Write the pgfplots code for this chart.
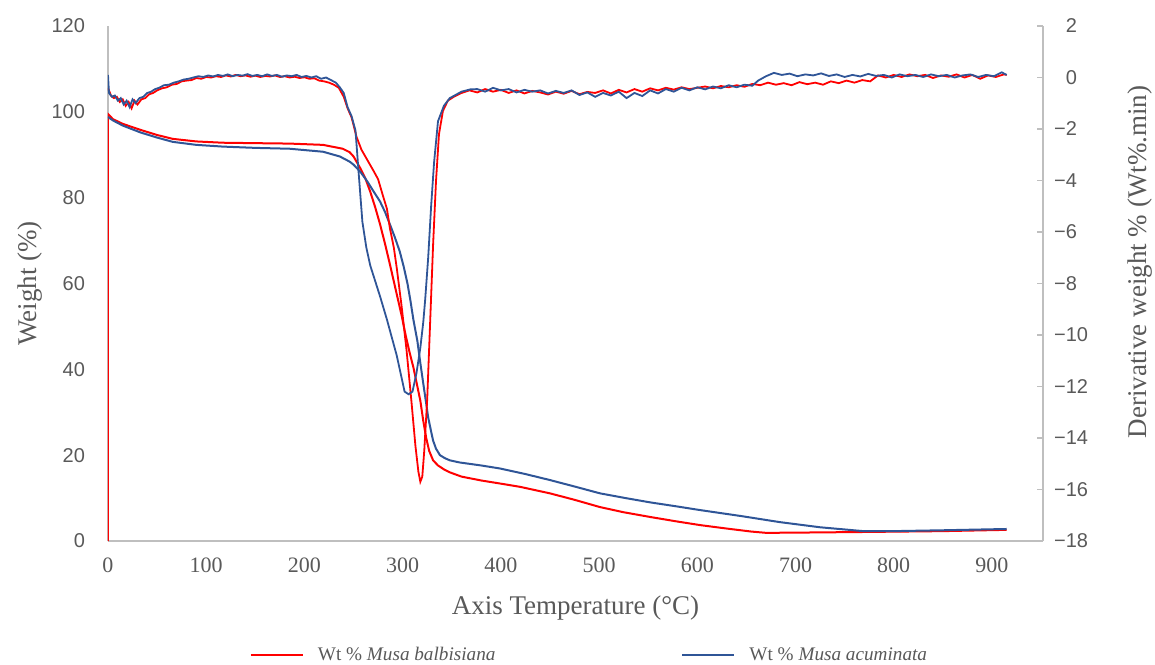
\documentclass[border=0pt]{standalone}
\usepackage{fontspec}
\setmainfont{Liberation Serif}
\setsansfont{Liberation Sans}
\usepackage{pgfplots}
\pgfplotsset{compat=1.18}
\definecolor{tgared}{RGB}{255,0,0}
\definecolor{tgablue}{RGB}{47,85,151}
\definecolor{txtgray}{RGB}{89,89,89}
\definecolor{axgray}{RGB}{191,191,191}

\pgfplotsset{
  tgabase/.style={
    scale only axis, width=467.5pt, height=257.5pt,
    at={(0,0)}, anchor=south west,
    xmin=0, xmax=952,
    axis line style={axgray, line width=0.7pt, -},
    /pgf/number format/assume math mode=true,
    label style={font=\fontsize{13.5}{14}\selectfont, text=txtgray},
  }
}

\begin{document}
\begin{tikzpicture}
\path[use as bounding box] (-54pt,-61.5pt) rectangle (523.5pt,270.5pt);

% left axis: weight curves
\begin{axis}[tgabase,
  ymin=0, ymax=120,
  axis x line*=bottom, axis y line*=left,
  xtick={0,100,...,900}, ytick={0,20,...,120},
  major tick length=0pt,
  xticklabel style={font=\fontsize{11}{11}\selectfont, text=txtgray, yshift=-5pt},
  yticklabel style={font=\sffamily\fontsize{10}{10}\selectfont, text=txtgray, xshift=-8pt},
  xlabel={Axis Temperature (°C)}, ylabel={Weight (\%)},
  xlabel style={at={(axis description cs:0.5,-0.13)}, anchor=center},
  ylabel style={at={(axis description cs:-0.083,0.5)}, anchor=center},
  legend columns=2,
  legend style={at={(axis description cs:0.516,-0.222)}, anchor=center, draw=none,
    font=\fontsize{9.6}{10}\selectfont, text=txtgray,
    /tikz/every even column/.append style={column sep=91pt}},
  legend image code/.code={\draw[#1, line width=1pt] (0pt,0pt) -- (26pt,0pt); \path (31pt,0pt);},
]
\addplot[tgared, line width=1pt] coordinates {
(0,0) (0,99.5) (5,98.3) (15,97.2) (33,95.8) (50,94.6) (66,93.7) (90,93.1)
(117,92.8) (150,92.7) (185,92.6) (219,92.3) (239,91.4) (246,90.6) (250,89.6)
(257,86.8) (262,84.5) (267,81.4) (272,77.8) (277,73.8) (282,69.3) (287,64.5)
(291,60.5) (295,56.5) (299,52.5) (303,48) (307,44) (311,40.4) (315,36)
(318,32.7) (321,28) (324,24) (327,21) (331,18.8) (336,17.6) (342,16.7)
(348,16.0) (360,15.0) (380,14.1) (399,13.4) (420,12.6) (450,11.1) (475,9.6)
(501,7.9) (525,6.7) (552,5.6) (578,4.6) (603,3.7) (630,2.9) (655,2.2)
(670,1.9) (700,1.95) (769,2.1) (850,2.3) (915,2.6)
};
\addlegendentry{Wt \% \textit{Musa balbisiana}}
\addplot[tgablue, line width=1pt] coordinates {
(0,98.8) (5,98.0) (15,96.8) (33,95.2) (50,94.0) (66,93.0) (90,92.3)
(117,91.9) (150,91.6) (185,91.4) (219,90.7) (236,89.6) (246,88.4) (250,87.7)
(257,86.0) (264,83.8) (270,81.6) (277,79.1) (282,76.7) (287,73.8) (292,70.8)
(297,67.5) (301,64) (305,59.9) (308,55.9) (311,51.5) (315,46.6) (318,41.5)
(321,36.7) (324,32) (326,28.8) (329,25.5) (331,23.4) (334,21.5) (338,20.0)
(343,19.3) (348,18.8) (358,18.3) (380,17.6) (399,16.9) (425,15.6) (450,14.2)
(475,12.7) (501,11.1) (527,10.0) (552,9.0) (578,8.1) (603,7.2) (645,5.8)
(684,4.4) (725,3.2) (769,2.3) (800,2.3) (850,2.5) (915,2.8)
};
\addlegendentry{Wt \% \textit{Musa acuminata}}
\end{axis}

% right axis: derivative curves
\begin{axis}[tgabase,
  ymin=-18, ymax=2,
  axis x line=none, axis y line*=right,
  ytick={-18,-16,...,2},
  yticklabels={−18,−16,−14,−12,−10,−8,−6,−4,−2,\phantom{−}0,\phantom{−}2},
  tick align=inside, major tick length=3pt, tick style={axgray, line width=0.7pt},
  yticklabel style={font=\sffamily\fontsize{10}{10}\selectfont, text=txtgray, anchor=west, xshift=2pt},
  ylabel={Derivative weight \% (Wt\%.min)},
  ylabel style={at={(axis description cs:1.104,0.542)}, anchor=center},
]
\addplot[tgared, line width=0.9pt] coordinates {
(0,-0.4) (3,-0.7) (6,-0.8) (9,-0.75) (12,-0.95) (15,-0.85) (18,-1.1) (21,-0.95)
(24,-1.2) (27,-0.9) (30,-1.05) (34,-0.85) (38,-0.8) (42,-0.65) (46,-0.6) (50,-0.5)
(55,-0.42) (60,-0.38) (65,-0.28) (70,-0.25) (75,-0.15) (80,-0.12) (85,-0.1)
(90,-0.02) (95,-0.05) (100,0.02) (105,0.0) (110,0.05) (115,0.02) (120,0.08)
(125,0.04) (130,0.1) (135,0.05) (140,0.08) (145,0.03) (150,0.07) (155,0.02)
(160,0.06) (165,0.04) (170,0.08) (175,0.02) (180,0.05) (185,0.0) (190,0.03)
(195,-0.02) (200,0.01) (205,-0.05) (210,-0.03) (215,-0.12) (220,-0.15)
(225,-0.2) (230,-0.28) (235,-0.4) (240,-0.75) (244,-1.2) (248,-1.55) (253,-2.3)
(258,-2.8) (264,-3.2) (270,-3.6) (275,-3.95) (280,-4.6) (284,-5.1) (287,-5.85)
(291,-6.6) (294,-7.4) (299,-8.9) (304,-10.6) (309,-12.6) (313,-14.3) (316,-15.3)
(318,-15.7) (320,-15.5) (322,-14.5) (325,-12.5) (328,-9.5) (331,-6.5) (334,-4)
(337,-2.2) (341,-1.3) (346,-0.9) (352,-0.75) (360,-0.6) (368,-0.5) (376,-0.58)
(384,-0.45) (392,-0.55) (400,-0.48) (408,-0.6) (416,-0.5) (424,-0.62) (432,-0.52)
(440,-0.58) (448,-0.66) (456,-0.55) (464,-0.63) (472,-0.52) (480,-0.65) (488,-0.56)
(496,-0.6) (504,-0.5) (512,-0.62) (520,-0.48) (528,-0.58) (536,-0.45) (544,-0.55)
(552,-0.42) (560,-0.5) (568,-0.4) (576,-0.47) (584,-0.38) (592,-0.45) (600,-0.4)
(608,-0.35) (616,-0.42) (624,-0.33) (632,-0.38) (640,-0.3) (648,-0.36) (656,-0.25)
(664,-0.3) (672,-0.2) (680,-0.28) (688,-0.22) (696,-0.3) (704,-0.18) (712,-0.26)
(720,-0.2) (728,-0.28) (736,-0.15) (744,-0.22) (752,-0.12) (760,-0.2) (768,-0.1)
(776,-0.15) (784,0.08) (792,0.0) (800,0.1) (808,0.02) (816,0.12) (824,0.05)
(832,0.1) (840,-0.02) (848,0.08) (856,0.03) (864,0.12) (872,0.0) (880,0.1)
(888,-0.05) (896,0.08) (904,0.02) (912,0.12) (915,0.1)
};
\addplot[tgablue, line width=0.9pt] coordinates {
(0,0.1) (1,-0.6) (4,-0.75) (7,-0.7) (10,-0.9) (13,-0.8) (16,-1.05) (19,-0.9)
(22,-1.15) (25,-0.85) (28,-1.0) (32,-0.8) (36,-0.75) (40,-0.6) (44,-0.55)
(48,-0.45) (52,-0.4) (57,-0.3) (62,-0.28) (67,-0.2) (72,-0.15) (77,-0.08)
(82,-0.05) (87,0.0) (92,0.05) (97,0.02) (102,0.08) (107,0.04) (112,0.1)
(117,0.06) (122,0.12) (127,0.05) (132,0.1) (137,0.07) (142,0.13) (147,0.06)
(152,0.1) (157,0.05) (162,0.12) (167,0.06) (172,0.1) (177,0.03) (182,0.08)
(187,0.05) (192,0.1) (197,0.02) (202,0.06) (207,0.0) (212,0.05) (217,-0.05)
(222,0.0) (227,-0.1) (232,-0.2) (236,-0.38) (240,-0.6) (244,-1.16) (248,-1.5)
(252,-2.06) (255,-3.6) (259,-5.6) (263,-6.6) (267,-7.3) (272,-7.9) (277,-8.5)
(284,-9.4) (289,-10.1) (294,-10.8) (298,-11.5) (302,-12.2) (306,-12.3)
(310,-12.2) (314,-11.5) (318,-10.5) (321,-9.5) (323,-8.6) (326,-7) (329,-5)
(332,-3.3) (336,-1.7) (342,-1.1) (348,-0.8) (360,-0.55) (369,-0.46) (376,-0.45)
(384,-0.55) (392,-0.4) (400,-0.5) (408,-0.45) (416,-0.58) (424,-0.48) (432,-0.55)
(440,-0.5) (448,-0.62) (456,-0.52) (464,-0.6) (472,-0.5) (480,-0.68) (488,-0.58)
(496,-0.75) (504,-0.6) (512,-0.7) (520,-0.55) (528,-0.8) (536,-0.6) (544,-0.72)
(552,-0.5) (560,-0.62) (568,-0.45) (576,-0.55) (584,-0.4) (592,-0.5) (600,-0.38)
(608,-0.46) (616,-0.35) (624,-0.42) (632,-0.3) (640,-0.38) (648,-0.28) (656,-0.32)
(662,-0.12) (670,0.05) (678,0.18) (686,0.1) (694,0.15) (702,0.05) (710,0.12)
(718,0.08) (726,0.16) (734,0.06) (742,0.12) (750,0.02) (758,0.1) (766,0.04)
(774,0.14) (782,0.06) (790,0.1) (798,0.0) (806,0.12) (814,0.05) (822,0.1)
(830,0.02) (838,0.12) (846,0.05) (854,0.1) (862,0.0) (870,0.08) (878,0.12)
(886,0.02) (894,0.1) (902,0.05) (910,0.2) (915,0.1)
};
\end{axis}
\end{tikzpicture}
\end{document}
